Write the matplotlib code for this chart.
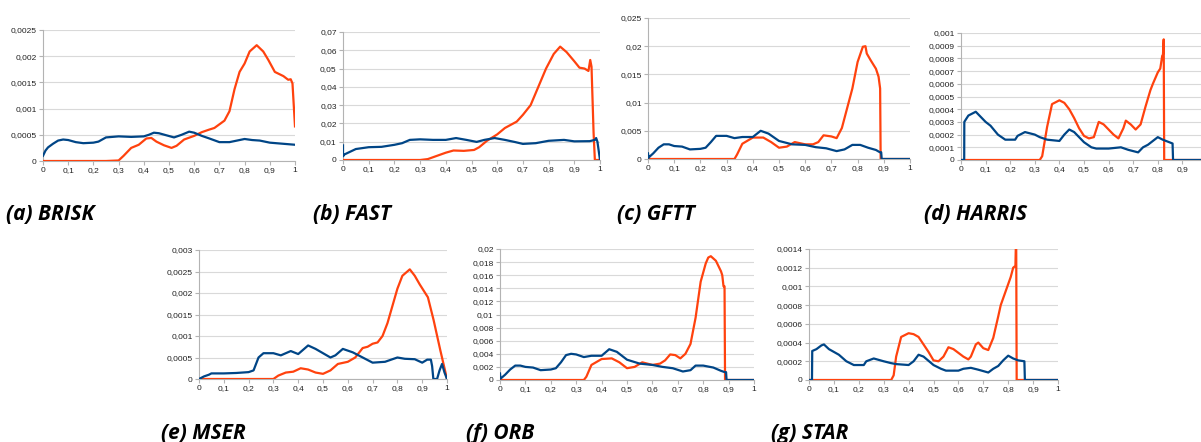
import matplotlib
matplotlib.use('Agg')
import matplotlib.pyplot as plt
from matplotlib.ticker import MultipleLocator, FuncFormatter

BLUE = '#004586'
ORANGE = '#ff420e'

# ---- (a) BRISK
brisk_bx = [0, 0.01, 0.02, 0.04, 0.06, 0.08, 0.1, 0.13, 0.16, 0.2, 0.22, 0.25, 0.3, 0.35, 0.4, 0.42, 0.44, 0.46,
            0.49, 0.52, 0.55, 0.58, 0.6, 0.63, 0.66, 0.7, 0.74, 0.77, 0.8, 0.83, 0.86, 0.88, 0.9, 0.95, 1.0]
brisk_by = [0.0001, 0.0002, 0.00026, 0.00033, 0.00039, 0.00041, 0.0004, 0.00036, 0.00034, 0.00035, 0.00037,
            0.00045, 0.00047, 0.00046, 0.00047, 0.0005, 0.00054, 0.00053, 0.00049, 0.00045, 0.0005, 0.00056,
            0.00054, 0.00048, 0.00043, 0.00036, 0.00036, 0.00039, 0.00042, 0.0004, 0.00039, 0.00037, 0.00035,
            0.00033, 0.00031]
brisk_ox = [0, 0.25, 0.3, 0.32, 0.35, 0.38, 0.41, 0.43, 0.45, 0.48, 0.51, 0.53, 0.56, 0.6, 0.63, 0.66, 0.68, 0.7,
            0.72, 0.74, 0.76, 0.78, 0.8, 0.82, 0.848, 0.874, 0.894, 0.92, 0.954, 0.973, 0.983, 0.99, 1.0]
brisk_oy = [0, 0, 0.00001, 0.0001, 0.00025, 0.00031, 0.00043, 0.00044, 0.00037, 0.0003, 0.00025, 0.00029,
            0.00041, 0.00048, 0.00055, 0.0006, 0.00063, 0.0007, 0.00077, 0.00095, 0.00137, 0.0017, 0.00186,
            0.00209, 0.00221, 0.00209, 0.00193, 0.0017, 0.00162, 0.00155, 0.00156, 0.00148, 0.00066]

# ---- (b) FAST
fast_bx = [0, 0, 0.005, 0.02, 0.05, 0.1, 0.15, 0.2, 0.23, 0.26, 0.3, 0.35, 0.4, 0.44, 0.48, 0.52, 0.55, 0.59,
           0.63, 0.67, 0.7, 0.75, 0.8, 0.86, 0.9, 0.96, 0.98, 0.985, 0.99, 1.0]
fast_by = [0.008, 0.002, 0.003, 0.004, 0.006, 0.007, 0.0072, 0.0083, 0.0092, 0.011, 0.0113, 0.011, 0.011,
           0.012, 0.011, 0.0099, 0.011, 0.012, 0.011, 0.0098, 0.0088, 0.0092, 0.0105, 0.011, 0.0102, 0.0103,
           0.011, 0.012, 0.01, 0.0]
fast_ox = [0, 0.3, 0.33, 0.36, 0.4, 0.43, 0.47, 0.51, 0.53, 0.56, 0.6, 0.63, 0.676, 0.7, 0.73, 0.76, 0.79,
           0.82, 0.845, 0.87, 0.9, 0.92, 0.94, 0.955, 0.962, 0.967, 0.975, 0.98, 1.0]
fast_oy = [0, 0, 0.0005, 0.002, 0.004, 0.0052, 0.005, 0.0055, 0.007, 0.0105, 0.014, 0.0175, 0.021, 0.0247,
           0.030, 0.040, 0.050, 0.058, 0.062, 0.059, 0.054, 0.0505, 0.050, 0.0487, 0.0547, 0.051, 0.015, 0, 0]

# ---- (c) GFTT
gftt_bx = [0, 0.002, 0.008, 0.02, 0.04, 0.06, 0.08, 0.1, 0.13, 0.16, 0.2, 0.22, 0.24, 0.26, 0.3, 0.33, 0.36,
           0.4, 0.43, 0.46, 0.5, 0.55, 0.6, 0.64, 0.68, 0.72, 0.75, 0.78, 0.81, 0.84, 0.87, 0.885, 0.89, 0.892, 1.0]
gftt_by = [0.001, 0.0002, 0.0005, 0.001, 0.002, 0.0026, 0.0026, 0.0023, 0.0022, 0.0017, 0.0018, 0.002, 0.003,
           0.0041, 0.0041, 0.0037, 0.0039, 0.0039, 0.005, 0.0045, 0.0032, 0.0026, 0.0025, 0.0021, 0.0019,
           0.0014, 0.0017, 0.0025, 0.0025, 0.002, 0.0016, 0.0012, 0.0012, 0, 0]
gftt_ox = [0, 0.33, 0.34, 0.36, 0.4, 0.44, 0.47, 0.5, 0.53, 0.56, 0.6, 0.63, 0.65, 0.67, 0.7, 0.72, 0.74, 0.76,
           0.78, 0.8, 0.82, 0.83, 0.835, 0.85, 0.87, 0.88, 0.886, 0.888, 1.0]
gftt_oy = [0, 0, 0.0008, 0.0027, 0.0038, 0.0038, 0.003, 0.002, 0.0022, 0.003, 0.0026, 0.0026, 0.003, 0.0042,
           0.004, 0.0037, 0.0055, 0.009, 0.0125, 0.0172, 0.0199, 0.020, 0.0187, 0.0175, 0.016, 0.0146, 0.0125, 0, 0]

# ---- (d) HARRIS
harris_bx = [0, 0.013, 0.0135, 0.02, 0.03, 0.05, 0.06, 0.08, 0.1, 0.12, 0.15, 0.18, 0.22, 0.23, 0.26, 0.3, 0.32,
             0.35, 0.4, 0.42, 0.44, 0.46, 0.5, 0.53, 0.55, 0.6, 0.65, 0.68, 0.72, 0.74, 0.76, 0.78, 0.8, 0.82,
             0.86, 0.862, 1.0]
harris_by = [0, 0, 0.0003, 0.00032, 0.00035, 0.00037, 0.00038, 0.00034, 0.0003, 0.00027, 0.0002, 0.00016,
             0.00016, 0.00019, 0.00022, 0.0002, 0.00018, 0.00016, 0.00015, 0.0002, 0.00024, 0.00022, 0.00014,
             0.0001, 0.00009, 0.00009, 0.0001, 0.00008, 0.00006, 0.0001, 0.00012, 0.00015, 0.00018, 0.00016,
             0.00013, 0, 0]
harris_ox = [0, 0.32, 0.33, 0.35, 0.37, 0.4, 0.42, 0.44, 0.46, 0.48, 0.5, 0.52, 0.54, 0.55, 0.56, 0.58, 0.6,
             0.62, 0.64, 0.66, 0.67, 0.69, 0.71, 0.73, 0.75, 0.77, 0.78, 0.8, 0.81, 0.818, 0.821, 0.824, 0.826, 1.0]
harris_oy = [0, 0, 0.00003, 0.00026, 0.00044, 0.00047, 0.00045, 0.0004, 0.00033, 0.00025, 0.00019, 0.00017,
             0.00018, 0.00024, 0.0003, 0.00028, 0.00024, 0.0002, 0.00017, 0.00025, 0.00031, 0.00028, 0.00024,
             0.00028, 0.00042, 0.00055, 0.0006, 0.00069, 0.00072, 0.00082, 0.00083, 0.00095, 0, 0]

# ---- (e) MSER
mser_bx = [0, 0.02, 0.04, 0.05, 0.1, 0.15, 0.2, 0.22, 0.24, 0.26, 0.3, 0.33, 0.37, 0.4, 0.44, 0.47, 0.5, 0.53,
           0.55, 0.58, 0.62, 0.66, 0.7, 0.75, 0.8, 0.83, 0.87, 0.9, 0.92, 0.935, 0.94, 0.945, 0.96, 0.97, 0.98,
           0.99, 1.0]
mser_by = [0, 0.00006, 0.0001, 0.00013, 0.00013, 0.00014, 0.00016, 0.0002, 0.0005, 0.0006, 0.0006, 0.00055,
           0.00065, 0.00058, 0.00078, 0.0007, 0.0006, 0.0005, 0.00055, 0.0007, 0.00062, 0.0005, 0.00038, 0.0004,
           0.0005, 0.00047, 0.00046, 0.00038, 0.00045, 0.00045, 0.0003, 0, 0, 0.0002, 0.00035, 0.00015, 0]
mser_ox = [0, 0.3, 0.32, 0.35, 0.38, 0.41, 0.44, 0.47, 0.5, 0.53, 0.56, 0.6, 0.63, 0.66, 0.68, 0.7, 0.72, 0.74,
           0.76, 0.78, 0.8, 0.82, 0.85, 0.87, 0.89, 0.923, 0.946, 0.973, 1.0]
mser_oy = [0, 0, 0.00008, 0.00015, 0.00017, 0.00025, 0.00022, 0.00015, 0.00012, 0.0002, 0.00035, 0.0004,
           0.0005, 0.00072, 0.00075, 0.00082, 0.00085, 0.001, 0.0013, 0.0017, 0.0021, 0.0024, 0.00255, 0.0024,
           0.0022, 0.0019, 0.00137, 0.00067, 0]

# ---- (f) ORB
orb_bx = [0, 0.002, 0.02, 0.04, 0.06, 0.08, 0.1, 0.13, 0.16, 0.2, 0.22, 0.24, 0.26, 0.28, 0.3, 0.33, 0.36, 0.4,
          0.43, 0.46, 0.5, 0.55, 0.6, 0.64, 0.68, 0.72, 0.75, 0.77, 0.8, 0.84, 0.87, 0.885, 0.89, 0.892, 1.0]
orb_by = [0.001, 0.0002, 0.0008, 0.0016, 0.0022, 0.0022, 0.002, 0.0019, 0.0015, 0.0016, 0.0018, 0.0027,
          0.0038, 0.004, 0.0039, 0.0035, 0.0037, 0.0037, 0.0047, 0.0043, 0.0031, 0.0025, 0.0023, 0.002, 0.0018,
          0.0013, 0.0015, 0.0022, 0.0022, 0.0019, 0.0014, 0.0012, 0.0012, 0, 0]
orb_ox = [0, 0.33, 0.34, 0.36, 0.4, 0.44, 0.47, 0.5, 0.53, 0.56, 0.6, 0.63, 0.65, 0.67, 0.69, 0.71, 0.73, 0.75,
          0.77, 0.79, 0.81, 0.82, 0.83, 0.85, 0.87, 0.875, 0.88, 0.884, 0.886, 1.0]
orb_oy = [0, 0, 0.0005, 0.0023, 0.0032, 0.0033, 0.0027, 0.0018, 0.002, 0.0027, 0.0023, 0.0025, 0.003, 0.0039,
          0.0038, 0.0033, 0.004, 0.0055, 0.0095, 0.015, 0.0178, 0.0187, 0.0189, 0.0182, 0.0166, 0.016, 0.0143,
          0.0143, 0, 0]

# ---- (g) STAR
star_bx = [0, 0.012, 0.013, 0.03, 0.05, 0.06, 0.08, 0.1, 0.12, 0.15, 0.18, 0.22, 0.23, 0.26, 0.3, 0.33, 0.35,
           0.4, 0.42, 0.44, 0.46, 0.5, 0.53, 0.55, 0.6, 0.62, 0.65, 0.68, 0.72, 0.74, 0.76, 0.78, 0.8, 0.82, 0.84,
           0.865, 0.867, 1.0]
star_by = [0, 0, 0.00031, 0.00033, 0.00037, 0.00038, 0.00033, 0.0003, 0.00027, 0.0002, 0.00016, 0.00016,
           0.0002, 0.00023, 0.0002, 0.00018, 0.00017, 0.00016, 0.0002, 0.00027, 0.00025, 0.00016, 0.00012,
           0.0001, 0.0001, 0.00012, 0.00013, 0.00011, 0.00008, 0.00012, 0.00015, 0.00021, 0.00026, 0.00023,
           0.00021, 0.0002, 0, 0]
star_ox = [0, 0.33, 0.34, 0.35, 0.37, 0.4, 0.42, 0.44, 0.46, 0.48, 0.5, 0.52, 0.54, 0.56, 0.58, 0.6, 0.62, 0.64,
           0.65, 0.67, 0.68, 0.7, 0.72, 0.74, 0.76, 0.77, 0.79, 0.81, 0.82, 0.829, 0.832, 0.834, 1.0]
star_oy = [0, 0, 0.00005, 0.00025, 0.00046, 0.0005, 0.00049, 0.00046, 0.00038, 0.0003, 0.00021, 0.0002,
           0.00025, 0.00035, 0.00033, 0.00029, 0.00025, 0.00022, 0.00025, 0.00038, 0.0004, 0.00034, 0.00032,
           0.00045, 0.00068, 0.0008, 0.00095, 0.0011, 0.0012, 0.00122, 0.0016, 0, 0]

captions = ['(a) BRISK', '(b) FAST', '(c) GFTT', '(d) HARRIS', '(e) MSER', '(f) ORB', '(g) STAR']
y_max = [0.0025, 0.07, 0.025, 0.001, 0.003, 0.02, 0.0014]
y_step = [0.0005, 0.01, 0.005, 0.0001, 0.0005, 0.002, 0.0002]
x_last = [1, 1, 1, 0.9, 1, 1, 1]  # HARRIS is cut off by the right edge before its "1"

W, H = 1201, 442
# plot boxes in pixels: left, right, top, bottom
boxes = [(43, 295, 30, 161), (343, 600, 32, 160), (648, 910, 18, 159), (961, 1207, 33, 160),
         (199, 447, 250, 379), (500, 754, 249, 380), (809, 1058, 249, 380)]
caption_pos = [(6, 220), (313, 220), (617, 220), (924, 220), (161, 439), (466, 439), (771, 439)]

series = [(brisk_bx, brisk_by, brisk_ox, brisk_oy), (fast_bx, fast_by, fast_ox, fast_oy),
          (gftt_bx, gftt_by, gftt_ox, gftt_oy), (harris_bx, harris_by, harris_ox, harris_oy),
          (mser_bx, mser_by, mser_ox, mser_oy), (orb_bx, orb_by, orb_ox, orb_oy),
          (star_bx, star_by, star_ox, star_oy)]


def comma_fmt(v, pos):
    s = ('%.6f' % v).rstrip('0').rstrip('.')
    return s.replace('.', ',')


plt.rcParams['font.family'] = ['Liberation Sans', 'DejaVu Sans']
fig = plt.figure(figsize=(W / 100, H / 100), dpi=100)

for i in range(7):
    l, r, t, b = boxes[i]
    ax = fig.add_axes([l / W, 1 - b / H, (r - l) / W, (b - t) / H])
    bx, by, ox, oy = series[i]
    ax.plot(ox, oy, color=ORANGE, lw=1.6, zorder=3)
    ax.plot(bx, by, color=BLUE, lw=1.6, zorder=4)
    ax.set_xlim(0, 1)
    ax.set_ylim(0, y_max[i])
    ax.set_xticks([k / 10 for k in range(int(round(x_last[i] * 10)) + 1)])
    ax.yaxis.set_major_locator(MultipleLocator(y_step[i]))
    ax.xaxis.set_major_formatter(FuncFormatter(comma_fmt))
    ax.yaxis.set_major_formatter(FuncFormatter(comma_fmt))
    ax.grid(axis='y', color='#d9d9d9', lw=0.8, zorder=0)
    ax.set_axisbelow(True)
    for side in ['top', 'right']:
        ax.spines[side].set_visible(False)
    for side in ['left', 'bottom']:
        ax.spines[side].set_color('#b3b3b3')
        ax.spines[side].set_linewidth(0.8)
    ax.tick_params(length=3, width=0.8, color='#b3b3b3', labelsize=6, pad=1.5, labelcolor='#222222')
    fig.text(caption_pos[i][0] / W, 1 - caption_pos[i][1] / H, captions[i], fontsize=15,
             family='Open Sans', weight='bold', style='italic', va='baseline', ha='left')

plt.savefig('out.png', dpi=100)
